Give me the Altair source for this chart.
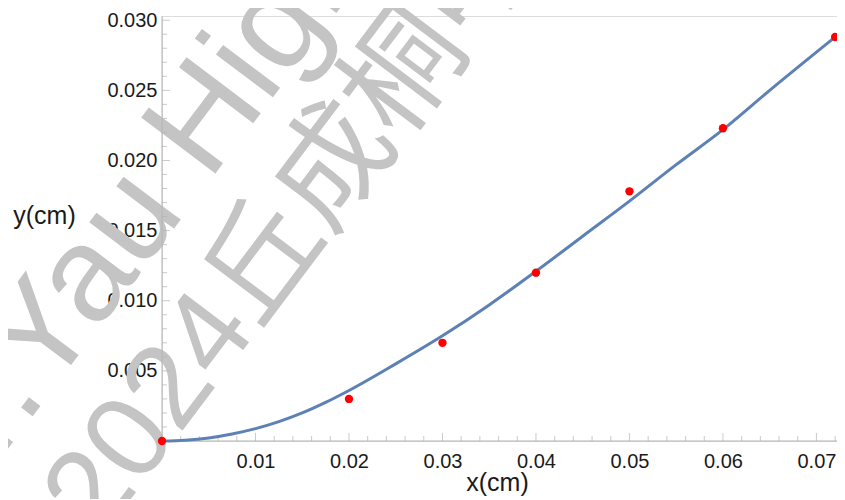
import altair as alt
import pandas as pd

# Measured points (red dots)
x_data = [0.0, 0.02, 0.03, 0.04, 0.05, 0.06, 0.072]
y_data = [0.0, 0.0030, 0.0070, 0.0120, 0.0178, 0.0223, 0.0288]

# Fitted curve (blue)
x_fit = [0.0, 0.0025, 0.005, 0.0075, 0.01, 0.0125, 0.015, 0.0175, 0.02, 0.025, 0.03,
         0.035, 0.04, 0.045, 0.05, 0.055, 0.06, 0.065, 0.072]
y_fit = [0.0, 0.00006, 0.00022, 0.0005, 0.00088, 0.00138, 0.0020, 0.00275, 0.0036,
         0.0055, 0.0075, 0.0097, 0.0121, 0.0146, 0.0171, 0.0197, 0.0222, 0.0250, 0.0288]

# Axis ticks
x_major = [0.01, 0.02, 0.03, 0.04, 0.05, 0.06, 0.07]
x_minor = [round(i * 0.002, 3) for i in range(1, 37) if i % 5]
y_major = [0.005, 0.010, 0.015, 0.020, 0.025, 0.030]
y_minor = [round(i * 0.001, 3) for i in range(1, 31) if i % 5]

# Watermark text
wm_lines = ["S.-T.Yau High School", "2024丘成桐中学科学奖"]

X_MAX = 0.0722
Y_MAX = 0.0303

W, H = 675, 425
FONT = "Liberation Sans"
AX_COLOR = "#b4b4b4"
TXT = "#1a1a1a"

xs = alt.Scale(domain=[0, X_MAX], nice=False, zero=False)
ys = alt.Scale(domain=[0, Y_MAX], nice=False, zero=False)

x_axis = alt.Axis(values=x_major, format=".2f", domain=False, ticks=False, grid=False,
                  labelFontSize=20, labelPadding=10, labelColor=TXT, labelFont=FONT,
                  labelFlush=False, labelOverlap=False,
                  title="x(cm)", titleFont=FONT, titleFontSize=25, titleFontWeight="normal",
                  titleColor=TXT, titleX=335, titleY=41, titleAlign="center",
                  titleBaseline="middle", titleAngle=0)
y_axis = alt.Axis(values=y_major, format=".3f", domain=False, ticks=False, grid=False,
                  labelFontSize=20, labelPadding=5, labelColor=TXT, labelFont=FONT,
                  labelOverlap=False,
                  title="y(cm)", titleFont=FONT, titleFontSize=25, titleFontWeight="normal",
                  titleColor=TXT, titleX=-118, titleY=199, titleAlign="center",
                  titleBaseline="middle", titleAngle=0)

def X(f):
    return alt.X(f, type="quantitative", scale=xs, axis=x_axis)

def Y(f):
    return alt.Y(f, type="quantitative", scale=ys, axis=y_axis)

pts = pd.DataFrame({"x": x_data, "y": y_data})
fit = pd.DataFrame({"x": x_fit, "y": y_fit})
frame = pd.DataFrame({"x0": [0.0], "x1": [X_MAX], "y0": [0.0], "y1": [Y_MAX]})
xt_major = pd.DataFrame({"x": x_major, "y": [0.0] * len(x_major)})
xt_minor = pd.DataFrame({"x": x_minor, "y": [0.0] * len(x_minor)})
yt_major = pd.DataFrame({"x": [0.0] * len(y_major), "y": y_major})
yt_minor = pd.DataFrame({"x": [0.0] * len(y_minor), "y": y_minor})

# Watermark
wm = pd.DataFrame({"t": wm_lines})
WM_FONT = FONT + ", Noto Sans CJK SC"
wm1 = alt.Chart(wm.iloc[[0]]).mark_text(
    font=WM_FONT, fontSize=135, color="#c4c4c4",
    angle=307, align="left", baseline="middle"
).encode(text="t:N", x=alt.value(-314), y=alt.value(577))
wm2 = alt.Chart(wm.iloc[[1]]).mark_text(
    font=WM_FONT, fontSize=118, color="#c4c4c4",
    angle=307, align="left", baseline="middle"
).encode(text="t:N", x=alt.value(-90), y=alt.value(503))

x_line = alt.Chart(frame).mark_rule(color=AX_COLOR, strokeWidth=1).encode(
    x=X("x0"), x2="x1", y=Y("y0"))
y_line = alt.Chart(frame).mark_rule(color=AX_COLOR, strokeWidth=1).encode(
    x=X("x0"), y=Y("y0"), y2="y1")

xmaj = alt.Chart(xt_major).mark_tick(color=AX_COLOR, orient="vertical", size=8,
                                     thickness=1, yOffset=-4).encode(x=X("x"), y=Y("y"))
xmin = alt.Chart(xt_minor).mark_tick(color=AX_COLOR, orient="vertical", size=5,
                                     thickness=1, yOffset=-2.5).encode(x=X("x"), y=Y("y"))
ymaj = alt.Chart(yt_major).mark_tick(color=AX_COLOR, orient="horizontal", size=8,
                                     thickness=1, xOffset=4).encode(x=X("x"), y=Y("y"))
ymin = alt.Chart(yt_minor).mark_tick(color=AX_COLOR, orient="horizontal", size=5,
                                     thickness=1, xOffset=2.5).encode(x=X("x"), y=Y("y"))

curve = alt.Chart(fit).mark_line(color="#5e81b5", strokeWidth=3,
                                 interpolate="monotone").encode(x=X("x"), y=Y("y"))
dots = alt.Chart(pts).mark_circle(color="#ff0000", size=70, opacity=1).encode(
    x=X("x"), y=Y("y"))

chart = alt.layer(wm1, wm2, x_line, y_line, xmin, xmaj, ymin, ymaj, curve, dots).properties(
    width=W, height=H,
    autosize=alt.AutoSizeParams(type="none"),
    padding={"left": 154, "top": 8, "right": 0, "bottom": 58},
).configure_view(stroke=None).configure(background="white")

chart.save("out.html", embed_options={"renderer": "svg", "actions": False})
